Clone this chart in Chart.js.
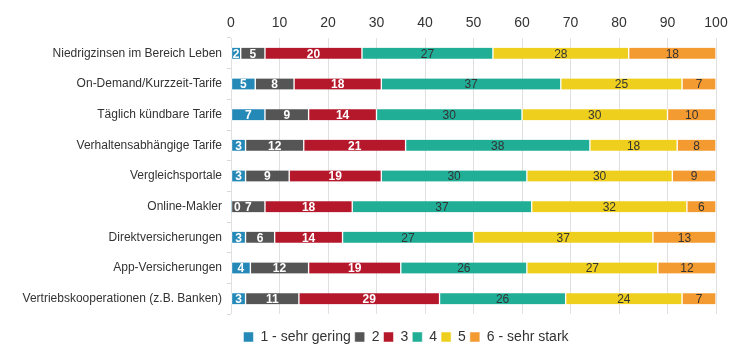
<!DOCTYPE html>
<html><head><meta charset="utf-8">
<script src="https://cdn.jsdelivr.net/npm/chart.js@4"></script>
<style>html,body{margin:0;padding:0;background:#fff}#wrap{width:750px;height:355px;position:relative}</style>
</head><body><div id="wrap"><canvas id="c"></canvas></div>
<script>
const categories = ["Niedrigzinsen im Bereich Leben","On-Demand/Kurzzeit-Tarife","Täglich kündbare Tarife","Verhaltensabhängige Tarife","Vergleichsportale","Online-Makler","Direktversicherungen","App-Versicherungen","Vertriebskooperationen (z.B. Banken)"];
const seriesNames = ["1 - sehr gering","2","3","4","5","6 - sehr stark"];
const s1 = [2,5,7,3,3,0,3,4,3];
const s2 = [5,8,9,12,9,7,6,12,11];
const s3 = [20,18,14,21,19,18,14,19,29];
const s4 = [27,37,30,38,30,37,27,26,26];
const s5 = [28,25,30,18,30,32,37,27,24];
const s6 = [18,7,10,8,9,6,13,12,7];
const xTicks = [0,10,20,30,40,50,60,70,80,90,100];
const colors = ["#2589b8","#555555","#b5182b","#21ae97","#efcf1e","#f39a31"];
const labelColors = ["#fff","#fff","#fff","#333","#333","#333"];
const series = [s1,s2,s3,s4,s5,s6];
const FONT = '"Liberation Sans", Arial, sans-serif';

const labelPlugin = {
  id:'segLabels',
  afterDatasetsDraw(chart){
    const ctx = chart.ctx;
    chart.data.datasets.forEach((ds,di)=>{
      const meta = chart.getDatasetMeta(di);
      meta.data.forEach((bar,i)=>{
        const v = ds.data[i];
        const bold = di < 3;
        ctx.save();
        ctx.font = (bold ? 'bold 12px ' : '12px ') + FONT;
        ctx.fillStyle = labelColors[di];
        ctx.textBaseline = 'middle';
        const left = Math.min(bar.base, bar.x);
        if (v === 0) { ctx.textAlign = 'left'; ctx.fillText(String(v), left + 3, bar.y + 1); }
        else { ctx.textAlign = 'center'; ctx.fillText(String(v), (bar.x + bar.base)/2, bar.y + 1); }
        ctx.restore();
      });
    });
  }
};

// place the legend block like the reference (centred at x≈406, a little lower)
const legendShift = {
  id:'legendShift',
  afterLayout(chart){
    const lg = chart.legend;
    if (!lg) return;
    const dx = 406 - (lg.left + lg.right)/2;
    lg.left += dx; lg.right += dx;
    lg.top += 12; lg.bottom += 12;
  }
};

new Chart(document.getElementById('c'), {
  type:'bar',
  data:{
    labels: categories,
    datasets: series.map((d,i)=>({
      label: seriesNames[i], data: d, backgroundColor: colors[i],
      borderColor:'#ffffff', borderWidth:{left:1,right:1,top:0,bottom:0}, borderSkipped:false,
      barThickness: 11
    }))
  },
  options:{
    indexAxis:'y', responsive:true, maintainAspectRatio:false, animation:false,
    layout:{padding:{left:0,right:34,top:0,bottom:13}},
    scales:{
      x:{ position:'top', stacked:true, min:0, max:100,
          afterBuildTicks(ax){ ax.ticks = xTicks.map(v=>({value:v})); },
          afterFit(ax){ ax.height = 38; },
          grid:{ color:'#e0e0e0', lineWidth:1, drawTicks:false },
          border:{ display:false },
          ticks:{ color:'#333', font:{size:14, family:FONT}, padding:6 } },
      y:{ stacked:true,
          afterFit(ax){ ax.width = 231; },
          grid:{ drawOnChartArea:false, offset:true, tickLength:4, color:'#d8d8d8' },
          border:{ display:false },
          ticks:{ color:'#333', font:{size:12, family:FONT}, padding:5 } }
    },
    plugins:{
      legend:{ position:'bottom', labels:{ boxWidth:10, boxHeight:10, padding:4, color:'#333', font:{size:14, family:FONT} } },
      tooltip:{enabled:false}
    }
  },
  plugins:[labelPlugin, legendShift]
});
</script></body></html>
